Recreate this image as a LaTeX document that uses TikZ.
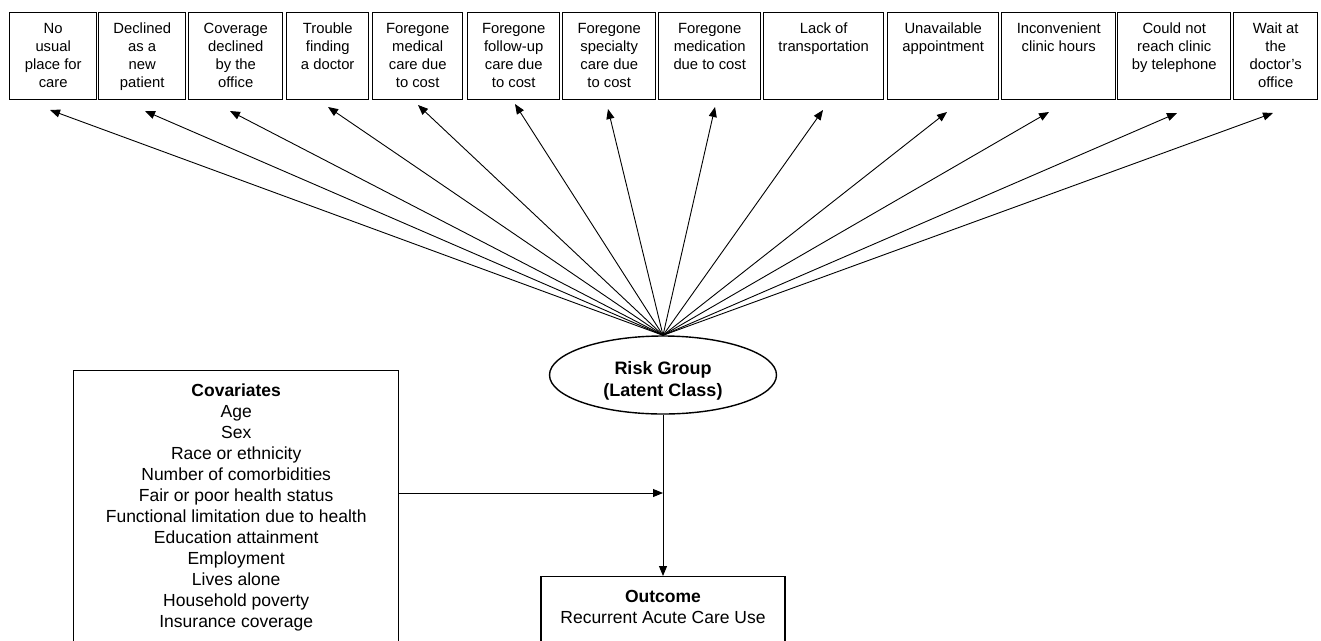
\documentclass[tikz,border=0pt]{standalone}
\usepackage{fontspec}
\setmainfont{Liberation Sans}
\usetikzlibrary{shapes.geometric,arrows.meta}
\tikzset{
  tb/.style={draw, line width=1.4pt, inner sep=0pt, anchor=north west,
    font=\fontsize{14.8}{18}\selectfont},
  arr/.style={line width=0.9pt, -{Triangle[length=10pt,width=8pt]}},
  bigbox/.style={draw, line width=1.4pt, inner sep=0pt,
    font=\fontsize{17.5}{21}\selectfont},
  latent/.style={draw, ellipse, line width=1.4pt, inner sep=0pt,
    minimum width=227pt, minimum height=78pt,
    font=\bfseries\fontsize{18}{22}\selectfont}
}
\newcommand\tbox[4]{%
  \pgfmathsetmacro\bw{#3-#2}%
  \node[tb, minimum width=\bw pt, minimum height=87pt] (#1) at (#2,12)
    {\parbox[c][85pt][t]{\bw pt}{\centering\rule{0pt}{20pt}#4\par}};}
\begin{document}
\begin{tikzpicture}[x=1pt,y=-1pt]
\useasboundingbox (0,0) rectangle (1321,640);
\clip (0,0) rectangle (1321,640);
\tbox{b1}{9}{96}{No\\usual\\place for\\care}
\tbox{b2}{98}{185}{Declined\\as a\\new\\patient}
\tbox{b3}{188}{282}{Coverage\\declined\\by the\\office}
\tbox{b4}{286}{368}{Trouble\\finding\\a doctor}
\tbox{b5}{372}{462}{Foregone\\medical\\care due\\to cost}
\tbox{b6}{467}{559}{Foregone\\follow-up\\care due\\to cost}
\tbox{b7}{562}{655}{Foregone\\specialty\\care due\\to cost}
\tbox{b8}{658}{760}{Foregone\\medication\\due to cost}
\tbox{b9}{763}{883}{Lack of\\transportation}
\tbox{b10}{887}{998}{Unavailable\\appointment}
\tbox{b11}{1001}{1115}{Inconvenient\\clinic hours}
\tbox{b12}{1117}{1230}{Could not\\reach clinic\\by telephone}
\tbox{b13}{1233}{1317}{Wait at\\the\\doctor's\\office}

\node[latent] (risk) at (663,375)
  {\parbox{160pt}{\vspace*{11pt}\centering Risk Group\\(Latent Class)\par}};

\coordinate (t1) at (50,110);
\coordinate (t2) at (145,111);
\coordinate (t3) at (230,111);
\coordinate (t4) at (328,107);
\coordinate (t5) at (418,105);
\coordinate (t6) at (515,104);
\coordinate (t7) at (608,109);
\coordinate (t8) at (715,107);
\coordinate (t9) at (823,110);
\coordinate (t10) at (947,112);
\coordinate (t11) at (1049,112);
\coordinate (t12) at (1177,113);
\coordinate (t13) at (1273,113);
\foreach \i in {1,...,13} \draw[arr] (risk.north) -- (t\i);

\node[bigbox, anchor=north west, minimum width=325pt, minimum height=300pt] (cov) at (73,370)
  {\parbox[c][298pt][t]{325pt}{\centering\rule{0pt}{25pt}\textbf{Covariates}\\Age\\Sex\\Race or ethnicity\\Number of comorbidities\\Fair or poor health status\\Functional limitation due to health\\Education attainment\\Employment\\Lives alone\\Household poverty\\Insurance coverage\par}};

\node[bigbox, anchor=north, minimum width=244pt, minimum height=100pt] (out) at (663,576)
  {\parbox[c][98pt][t]{244pt}{\centering\rule{0pt}{25pt}\textbf{Outcome}\\Recurrent Acute Care Use\par}};

\draw[arr] (risk.south) -- (out.north);
\coordinate (j) at (663,493);
\draw[arr] (cov.east |- j) -- (j);
\end{tikzpicture}
\end{document}
